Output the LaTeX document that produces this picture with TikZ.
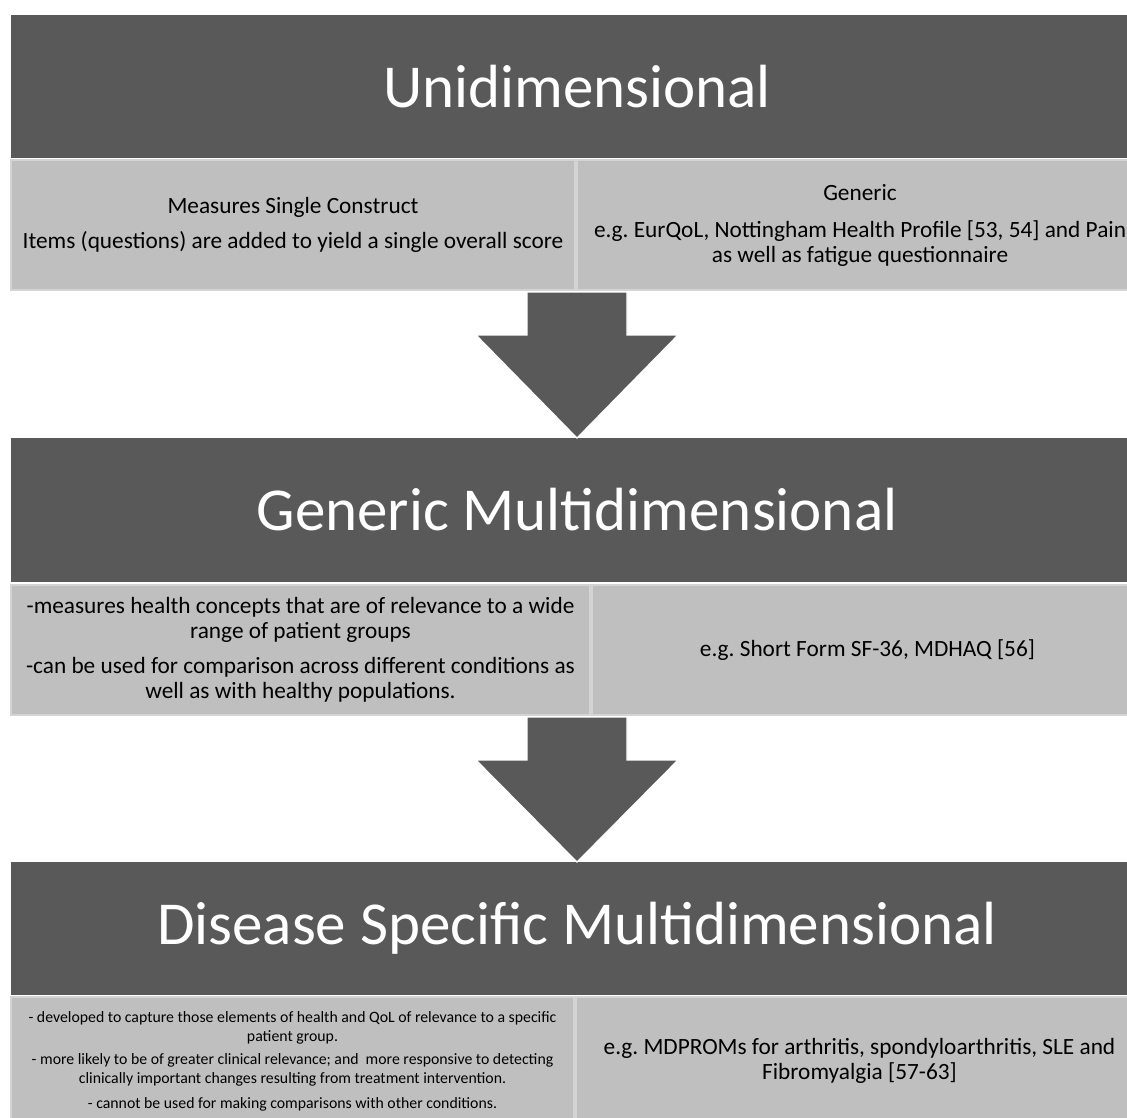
\documentclass[tikz,border=0pt]{standalone}
\usepackage{fontspec}
\setmainfont{Carlito}
\usetikzlibrary{positioning, calc}
\definecolor{darkslide}{HTML}{595959}
\definecolor{lightslide}{HTML}{BFBFBF}
\definecolor{celledge}{HTML}{D4D4D4}
\tikzstyle{header} = [rectangle, fill=darkslide, text=white, minimum width=1132pt,
 minimum height=143pt, inner sep=0pt, outer sep=0pt, font=\fontsize{61}{70}\selectfont]
\tikzstyle{cell} = [rectangle, fill=lightslide, draw=celledge, line width=1.5pt,
 minimum height=130pt, inner sep=0pt, outer sep=0pt, align=center,
 font=\fontsize{23.3}{25}\selectfont]
\tikzstyle{small} = [font=\fontsize{15.8}{19.5}\selectfont]
\tikzstyle{bigarrow} = [fill=darkslide, draw=white, line width=1.2pt]

% block arrow from the point #1 down to the point #2
\newcommand{\downblock}[2]{%
 \draw [bigarrow] let \p1=(#1), \p2=(#2) in
 (\x1-50pt,\y1) -- (\x1+50pt,\y1) -- (\x1+50pt,\y1-43pt) -- (\x1+101pt,\y1-43pt)
 -- (\x2,\y2) -- (\x1-101pt,\y1-43pt) -- (\x1-50pt,\y1-43pt) -- cycle;}

\begin{document}
\begin{tikzpicture}
 	\useasboundingbox [fill=white] (0,0) rectangle (1127pt,-1117pt);
 	
 	\node [header] (uni) at (577pt,-86.5pt) {Unidimensional};
 	\node [cell, minimum width=564pt, below right=2pt and 0pt of uni.south west] (uniL)
 	{Measures Single Construct\\[10pt]Items (questions) are added to yield a single overall score};
 	\node [cell, minimum width=566pt, right=2pt of uniL] (uniR)
 	{Generic\\[12pt]e.g.\ EurQoL, Nottingham Health Profile [53, 54] and Pain\\as well as fatigue questionnaire};
 	
 	\coordinate (a1) at ($(uni.center |- uniL.south)+(0,-2pt)$);
 	\node [header, minimum height=144pt, below=146pt of a1] (gen) {Generic Multidimensional};
 	\node [cell, minimum width=579pt, below right=3pt and 0pt of gen.south west] (genL)
 	{-measures health concepts that are of relevance to a wide\\range of patient groups\\[10pt]-can be used for comparison across different conditions as\\well as with healthy populations.};
 	\node [cell, minimum width=551pt, right=2pt of genL] (genR) {e.g.\ Short Form SF-36, MDHAQ [56]};
 	
 	\coordinate (a2) at ($(gen.center |- genL.south)+(0,-2pt)$);
 	\node [header, minimum height=133pt, below=145pt of a2] (dis) {Disease Specific Multidimensional};
 	\node [cell, small, minimum width=563pt, minimum height=128pt, below right=2pt and 0pt of dis.south west] (disL)
 	{- developed to capture those elements of health and QoL of relevance to a specific\\patient group.\\[3pt]- more likely to be of greater clinical relevance; and~ more responsive to detecting\\clinically important changes resulting from treatment intervention.\\[5pt]- cannot be used for making comparisons with other conditions.};
 	\node [cell, minimum width=567pt, minimum height=128pt, right=2pt of disL] (disR)
 	{e.g.\ MDPROMs for arthritis, spondyloarthritis, SLE and\\Fibromyalgia [57-63]};
 	
 	\downblock{a1}{gen.north}
 	\downblock{a2}{dis.north}
 	
\end{tikzpicture}
\end{document}
